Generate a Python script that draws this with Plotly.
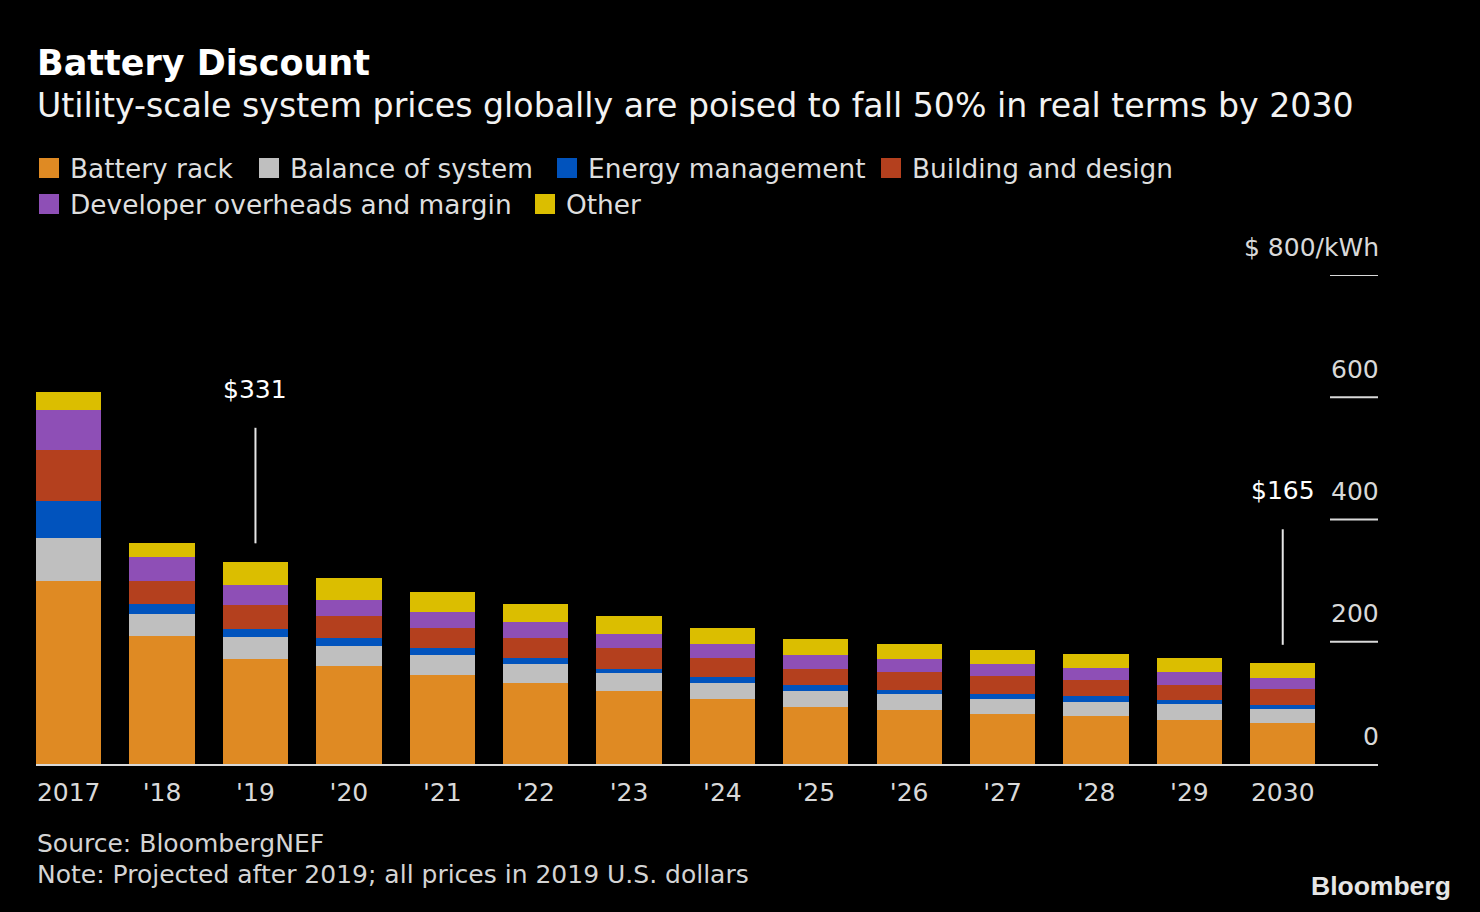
import plotly.graph_objects as go

# ---------------- data ----------------
years = ["2017", "'18", "'19", "'20", "'21", "'22", "'23", "'24", "'25", "'26", "'27", "'28", "'29", "2030"]
battery_rack = [300, 209, 172, 160, 146, 133, 120, 107, 94, 88, 81, 78, 72, 67]
balance_of_system = [69, 36, 36, 33, 33, 30, 29, 26, 26, 26, 26, 24, 26, 23]
energy_management = [62, 16, 13, 13, 10, 10, 7, 10, 10, 7, 7, 9, 6, 6]
building_and_design = [82, 39, 39, 36, 33, 33, 33, 30, 26, 30, 30, 26, 26, 26]
developer_overheads = [66, 39, 33, 26, 26, 26, 23, 23, 23, 20, 20, 20, 20, 19]
other = [29, 23, 38, 36, 33, 30, 30, 26, 26, 26, 23, 23, 23, 24]

series_names = ["Battery rack", "Balance of system", "Energy management",
                "Building and design", "Developer overheads and margin", "Other"]
series_values = [battery_rack, balance_of_system, energy_management,
                 building_and_design, developer_overheads, other]
series_colors = ["#df8a23", "#bfbfbf", "#0153bd", "#b4401e", "#8e4fb6", "#dbbe00"]

y_ticks = [0, 200, 400, 600, 800]
y_tick_labels = ["0", "200", "400", "600", "$ 800/kWh"]

callout_years = ["'19", "2030"]
callout_totals = [331, 165]

title = "Battery Discount"
subtitle = "Utility-scale system prices globally are poised to fall 50% in real terms by 2030"
source = "Source: BloombergNEF"
note = "Note: Projected after 2019; all prices in 2019 U.S. dollars"

# ---------------- layout geometry ----------------
W, H = 1480, 912
ML, MR, MT, MB = 36, 102, 275, 148
PW, PH = W - ML - MR, H - MT - MB


def px_x(px):
    return (px - ML) / PW


def px_y(py):
    return (H - MB - py) / PH


FONT = "DejaVu Sans"

fig = go.Figure()
for name, vals, col in zip(series_names, series_values, series_colors):
    fig.add_trace(go.Bar(x=years, y=vals, name=name, marker_color=col,
                         marker_line_width=0, showlegend=False))

annotations = []
shapes = []

# title / subtitle
annotations.append(dict(text="<b>%s</b>" % title, x=px_x(35), y=px_y(63), xref="paper", yref="paper",
                        xanchor="left", yanchor="middle", showarrow=False,
                        font=dict(family=FONT, size=35, color="#ffffff")))
annotations.append(dict(text=subtitle, x=px_x(35), y=px_y(105), xref="paper", yref="paper",
                        xanchor="left", yanchor="middle", showarrow=False,
                        font=dict(family=FONT, size=33.2, color="#f2f2f2")))

# manual legend
legend_text_x = [70, 290, 588, 912, 70, 566]
legend_row_y = [168, 168, 168, 168, 204, 204]
for name, col, tx, ty in zip(series_names, series_colors, legend_text_x, legend_row_y):
    shapes.append(dict(type="rect", xref="paper", yref="paper",
                       x0=px_x(tx - 31), x1=px_x(tx - 11), y0=px_y(ty - 10), y1=px_y(ty + 10),
                       fillcolor=col, line_width=0))
    annotations.append(dict(text=name, x=px_x(tx - 2), y=px_y(ty), xref="paper", yref="paper",
                            xanchor="left", yanchor="middle", showarrow=False,
                            font=dict(family=FONT, size=26.4, color="#dedede")))

# right-hand value axis: short tick lines with labels above
for v, lab in zip(y_ticks, y_tick_labels):
    if v > 0:
        shapes.append(dict(type="line", xref="paper", yref="y", x0=px_x(1330), x1=1,
                           y0=v, y1=v, line=dict(color="#d9d9d9", width=2)))
    annotations.append(dict(text=lab, x=1, y=v, xref="paper", yref="y", xanchor="right",
                            yanchor="middle", yshift=28, xshift=3, showarrow=False,
                            font=dict(family=FONT, size=25, color="#d9d9d9")))

# callouts (category index positions, so numeric-looking labels such as "2030" resolve correctly)
for cy, tot in zip(callout_years, callout_totals):
    xi = years.index(cy)
    shapes.append(dict(type="line", xref="x", yref="y", x0=xi, x1=xi,
                       y0=tot + 30, y1=tot + 219, line=dict(color="#e6e6e6", width=2)))
    annotations.append(dict(text="$%d" % tot, x=xi, y=tot + 282, xref="x", yref="y",
                            xanchor="center", yanchor="middle", showarrow=False,
                            font=dict(family=FONT, size=25, color="#ffffff")))

# source / note
annotations.append(dict(text=source, x=px_x(35), y=px_y(843), xref="paper", yref="paper",
                        xanchor="left", yanchor="middle", showarrow=False,
                        font=dict(family=FONT, size=25, color="#d4d4d4")))
annotations.append(dict(text=note, x=px_x(35), y=px_y(874), xref="paper", yref="paper",
                        xanchor="left", yanchor="middle", showarrow=False,
                        font=dict(family=FONT, size=25, color="#d4d4d4")))
annotations.append(dict(text="<b>Bloomberg</b>", x=px_x(1453), y=px_y(886), xref="paper", yref="paper",
                        xanchor="right", yanchor="middle", showarrow=False,
                        font=dict(family="Liberation Sans", size=26.5, color="#e6e6e6")))

fig.update_layout(
    width=W, height=H,
    margin=dict(l=ML, r=MR, t=MT, b=MB, pad=0),
    paper_bgcolor="#000000", plot_bgcolor="#000000",
    barmode="stack", bargap=0.3,
    font=dict(family=FONT, color="#d9d9d9"),
    annotations=annotations, shapes=shapes,
    xaxis=dict(type="category", range=[-0.35, 14.02], showgrid=False, zeroline=False,
               showline=True, linecolor="#d9d9d9", linewidth=2, ticks="",
               tickfont=dict(family=FONT, size=25, color="#d9d9d9"), ticklabelstandoff=5),
    yaxis=dict(range=[0, 800], showgrid=False, zeroline=False, showline=False,
               showticklabels=False, ticks="", fixedrange=True),
)

fig.write_html(
    "out.html",
    config={"displayModeBar": False},
    post_script="document.body.style.margin='0';document.body.style.background='#000';"
                "document.documentElement.style.overflow='hidden';",
)
